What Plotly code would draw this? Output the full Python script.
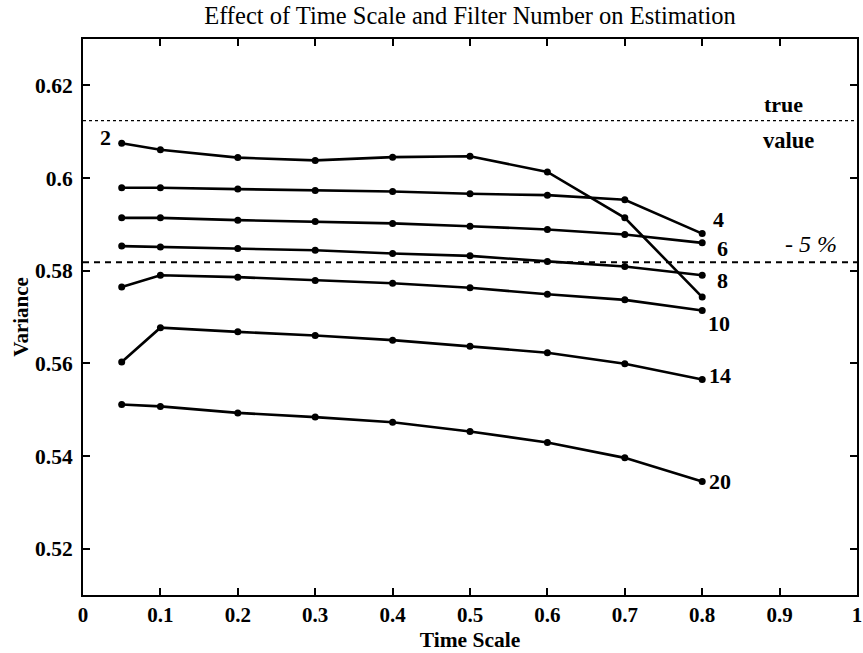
import plotly.graph_objects as go

# ---- data ----
time_scale = [0.05, 0.1, 0.2, 0.3, 0.4, 0.5, 0.6, 0.7, 0.8]
filter_numbers = ["2", "4", "6", "8", "10", "14", "20"]
var_f2 = [0.6075, 0.6061, 0.6044, 0.6038, 0.6045, 0.6047, 0.6013, 0.5914, 0.5743]
var_f4 = [0.5979, 0.5979, 0.5976, 0.5973, 0.5971, 0.5966, 0.5963, 0.5953, 0.5880]
var_f6 = [0.5914, 0.5914, 0.5909, 0.5906, 0.5902, 0.5896, 0.5889, 0.5878, 0.5860]
var_f8 = [0.5853, 0.5851, 0.5848, 0.5844, 0.5837, 0.5832, 0.5820, 0.5809, 0.5790]
var_f10 = [0.5765, 0.5790, 0.5786, 0.5779, 0.5773, 0.5763, 0.5749, 0.5737, 0.5714]
var_f14 = [0.5603, 0.5677, 0.5668, 0.5660, 0.5650, 0.5637, 0.5623, 0.5599, 0.5565]
var_f20 = [0.5511, 0.5507, 0.5493, 0.5484, 0.5473, 0.5453, 0.5429, 0.5396, 0.5345]
series = [var_f2, var_f4, var_f6, var_f8, var_f10, var_f14, var_f20]

true_value = 0.6124
minus_5pct = 0.5818

x_tickvals = [0, 0.1, 0.2, 0.3, 0.4, 0.5, 0.6, 0.7, 0.8, 0.9, 1]
x_ticktext = ["0", "0.1", "0.2", "0.3", "0.4", "0.5", "0.6", "0.7", "0.8", "0.9", "1"]
y_tickvals = [0.52, 0.54, 0.56, 0.58, 0.60, 0.62]
y_ticktext = ["0.52", "0.54", "0.56", "0.58", "0.6", "0.62"]

# label anchor positions (data coords)
label_pos = {
    "2": (0.0296, 0.6088, "center"),
    "4": (0.812, 0.5910, "left"),
    "6": (0.816, 0.5847, "left"),
    "8": (0.816, 0.5779, "left"),
    "10": (0.805, 0.5687, "left"),
    "14": (0.806, 0.5573, "left"),
    "20": (0.806, 0.5344, "left"),
}

SERIF = "Liberation Serif, Times New Roman, serif"

fig = go.Figure()

# reference lines
fig.add_trace(go.Scatter(x=[0, 1], y=[true_value, true_value], mode="lines",
                         line=dict(color="black", width=1.2, dash="dot"),
                         showlegend=False, hoverinfo="skip"))
fig.add_trace(go.Scatter(x=[0, 1], y=[minus_5pct, minus_5pct], mode="lines",
                         line=dict(color="black", width=2, dash="6px,5px"),
                         showlegend=False, hoverinfo="skip"))

for name, vals in zip(filter_numbers, series):
    fig.add_trace(go.Scatter(x=time_scale, y=vals, mode="lines+markers", name=name,
                             line=dict(color="black", width=2.6),
                             marker=dict(color="black", size=7),
                             showlegend=False))

annotations = []
for name in filter_numbers:
    lx, ly, anc = label_pos[name]
    annotations.append(dict(x=lx, y=ly, xref="x", yref="y", text="<b>%s</b>" % name,
                            showarrow=False, xanchor=anc, yanchor="middle",
                            font=dict(family=SERIF, size=22, color="black")))
annotations.append(dict(x=0.877, y=0.6158, xref="x", yref="y", text="<b>true</b>",
                        showarrow=False, xanchor="left", yanchor="middle",
                        font=dict(family=SERIF, size=22, color="black")))
annotations.append(dict(x=0.876, y=0.6080, xref="x", yref="y", text="<b>value</b>",
                        showarrow=False, xanchor="left", yanchor="middle",
                        font=dict(family=SERIF, size=22.5, color="black")))
annotations.append(dict(x=0.904, y=0.5858, xref="x", yref="y", text="<i>- 5 %</i>",
                        showarrow=False, xanchor="left", yanchor="middle",
                        font=dict(family=SERIF, size=24, color="black")))

fig.update_layout(
    width=863, height=653,
    margin=dict(l=83, r=1, t=39, b=58),
    paper_bgcolor="white", plot_bgcolor="white",
    title=dict(text="Effect of Time Scale and Filter Number on Estimation",
               x=0.5, xanchor="center", y=0.977, yanchor="middle",
               xref="paper", yref="container",
               font=dict(family=SERIF, size=24.5, color="black")),
    annotations=annotations,
    xaxis=dict(range=[0, 1], tickvals=x_tickvals, ticktext=x_ticktext,
               showgrid=False, zeroline=False,
               showline=True, linecolor="black", linewidth=2, mirror="ticks",
               ticks="inside", ticklen=7, tickwidth=2, tickcolor="black",
               ticklabeloverflow="allow",
               tickfont=dict(family=SERIF, size=21, color="black", weight="bold"),
               title=dict(text="<b>Time Scale</b>", standoff=6,
                          font=dict(family=SERIF, size=21.5, color="black"))),
    yaxis=dict(range=[0.51, 0.63], tickvals=y_tickvals, ticktext=y_ticktext,
               showgrid=False, zeroline=False,
               showline=True, linecolor="black", linewidth=2, mirror="ticks",
               ticks="inside", ticklen=7, tickwidth=2, tickcolor="black",
               ticklabelstandoff=4,
               tickfont=dict(family=SERIF, size=21.5, color="black", weight="bold"),
               title=dict(text="<b>Variance</b>", standoff=1,
                          font=dict(family=SERIF, size=21, color="black"))),
)

fig.write_html("out.html", config={"displayModeBar": False},
               post_script="document.body.style.margin='0px';document.body.style.overflow='hidden';")
